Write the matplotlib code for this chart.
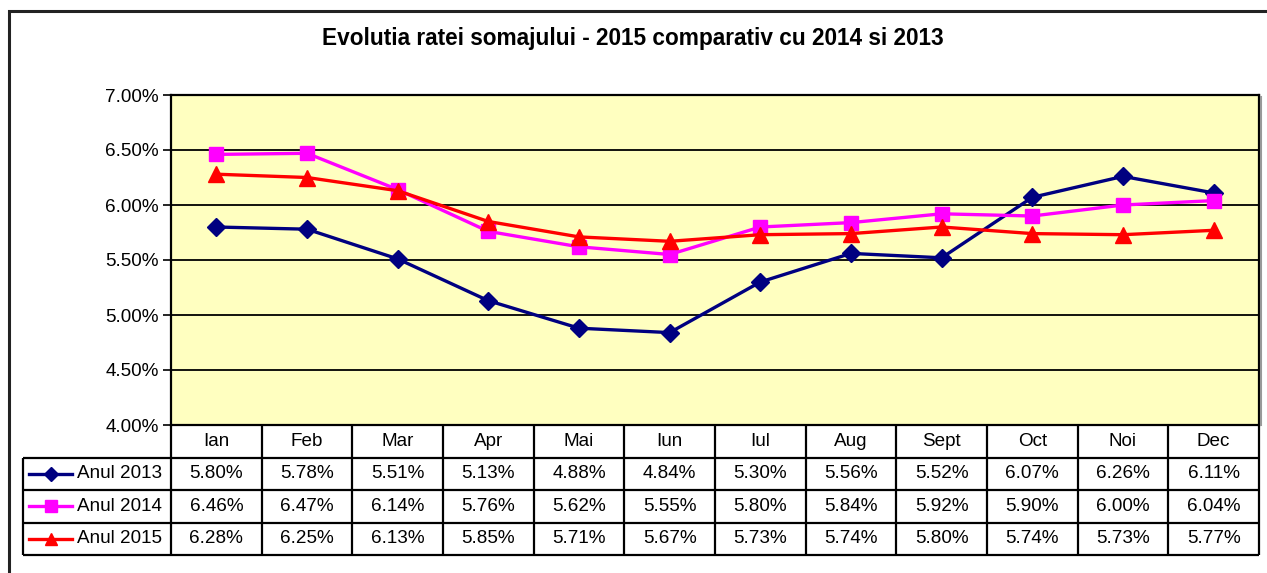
import numpy as np
import matplotlib.pyplot as plt
from matplotlib.patches import Rectangle

plt.rcParams['font.family'] = ['Liberation Sans', 'DejaVu Sans']

# ─── Data ───────────────────────────────────────────────────────────────────────
months = ["Ian", "Feb", "Mar", "Apr", "Mai", "Iun", "Iul", "Aug", "Sept", "Oct", "Noi", "Dec"]
rate_2013 = [5.80, 5.78, 5.51, 5.13, 4.88, 4.84, 5.30, 5.56, 5.52, 6.07, 6.26, 6.11]
rate_2014 = [6.46, 6.47, 6.14, 5.76, 5.62, 5.55, 5.80, 5.84, 5.92, 5.90, 6.00, 6.04]
rate_2015 = [6.28, 6.25, 6.13, 5.85, 5.71, 5.67, 5.73, 5.74, 5.80, 5.74, 5.73, 5.77]
series_names = ["Anul 2013", "Anul 2014", "Anul 2015"]
y_ticks = [4.0, 4.5, 5.0, 5.5, 6.0, 6.5, 7.0]

styles = [
    dict(color="#000080", marker="D", ms=9.5),
    dict(color="#FF00FF", marker="s", ms=10.5),
    dict(color="#FF0000", marker="^", ms=11.5),
]

W, H = 1267, 573
fig = plt.figure(figsize=(W / 100, H / 100), dpi=100)

def px_rect(x0, y0, x1, y1):
    return [x0 / W, 1 - y1 / H, (x1 - x0) / W, (y1 - y0) / H]

# outer frame (runs off the right and bottom edges)
fig.patches.append(Rectangle((9 / W, -0.1), 1.2, 1 - 11 / H + 0.1, transform=fig.transFigure,
                             fill=False, edgecolor="#222222", linewidth=2.2))

fig.text(633 / W, 1 - 38 / H, "Evolutia ratei somajului - 2015 comparativ cu 2014 si 2013",
         ha="center", va="center", fontsize=16.3, fontweight="bold")

# ─── Line chart ────────────────────────────────────────────────────────────────
ax = fig.add_axes(px_rect(171, 95, 1259, 425))
ax.set_facecolor("#FFFFC0")
x = np.arange(len(months)) + 0.5
for vals, st in zip([rate_2013, rate_2014, rate_2015], styles):
    ax.plot(x, vals, color=st["color"], lw=2.4, marker=st["marker"], ms=st["ms"],
            markeredgecolor=st["color"], zorder=3)
ax.set_xlim(0, len(months))
ax.set_ylim(4.0, 7.0)
ax.set_yticks(y_ticks)
ax.set_yticklabels([f"{v:.2f}%" for v in y_ticks])
ax.set_xticks([])
ax.tick_params(axis="y", direction="out", length=6, width=1.2, labelsize=13.6, pad=3)
for yv in y_ticks[1:-1]:
    ax.axhline(yv, color="black", lw=1.3, zorder=1)
for sp in ax.spines.values():
    sp.set_linewidth(1.6)
    sp.set_color("black")
# light shadow on the right of the plot area
fig.add_artist(plt.Line2D([1261 / W, 1261 / W], [1 - 425 / H, 1 - 97 / H],
                          color="#999999", lw=1.5, transform=fig.transFigure))

# ─── Data table ────────────────────────────────────────────────────────────────
col_w = (1259 - 171) / 12
left_u = (23 - 171) / col_w
tax = fig.add_axes(px_rect(23, 425, 1259, 555))
tax.set_xlim(left_u, 12)
tax.set_ylim(4, 0)
tax.axis("off")

lk = dict(color="black", lw=1.6, clip_on=False, solid_capstyle="butt")
tax.plot([left_u, 12], [1, 1], **lk)
for r in [2, 3, 4]:
    tax.plot([left_u, 12], [r, r], **lk)
for c in range(13):
    tax.plot([c, c], [0, 4], **lk)
tax.plot([left_u, left_u], [1, 4], **lk)

for i, m in enumerate(months):
    tax.text(i + 0.5, 0.5, m, ha="center", va="center", fontsize=13.6)

for r, (name, vals, st) in enumerate(zip(series_names, [rate_2013, rate_2014, rate_2015], styles)):
    yc = r + 1.5
    k0, k1 = (29 - 171) / col_w, (72 - 171) / col_w
    tax.plot([k0, k1], [yc, yc], color=st["color"], lw=2.4, clip_on=False)
    tax.plot([(k0 + k1) / 2], [yc], color=st["color"], marker=st["marker"],
             ms=st["ms"] * 0.8, clip_on=False)
    tax.text((77 - 171) / col_w, yc, name, ha="left", va="center", fontsize=13.6)
    for i, v in enumerate(vals):
        tax.text(i + 0.5, yc, f"{v:.2f}%", ha="center", va="center", fontsize=13.6)

fig.savefig("out.png", dpi=100)
